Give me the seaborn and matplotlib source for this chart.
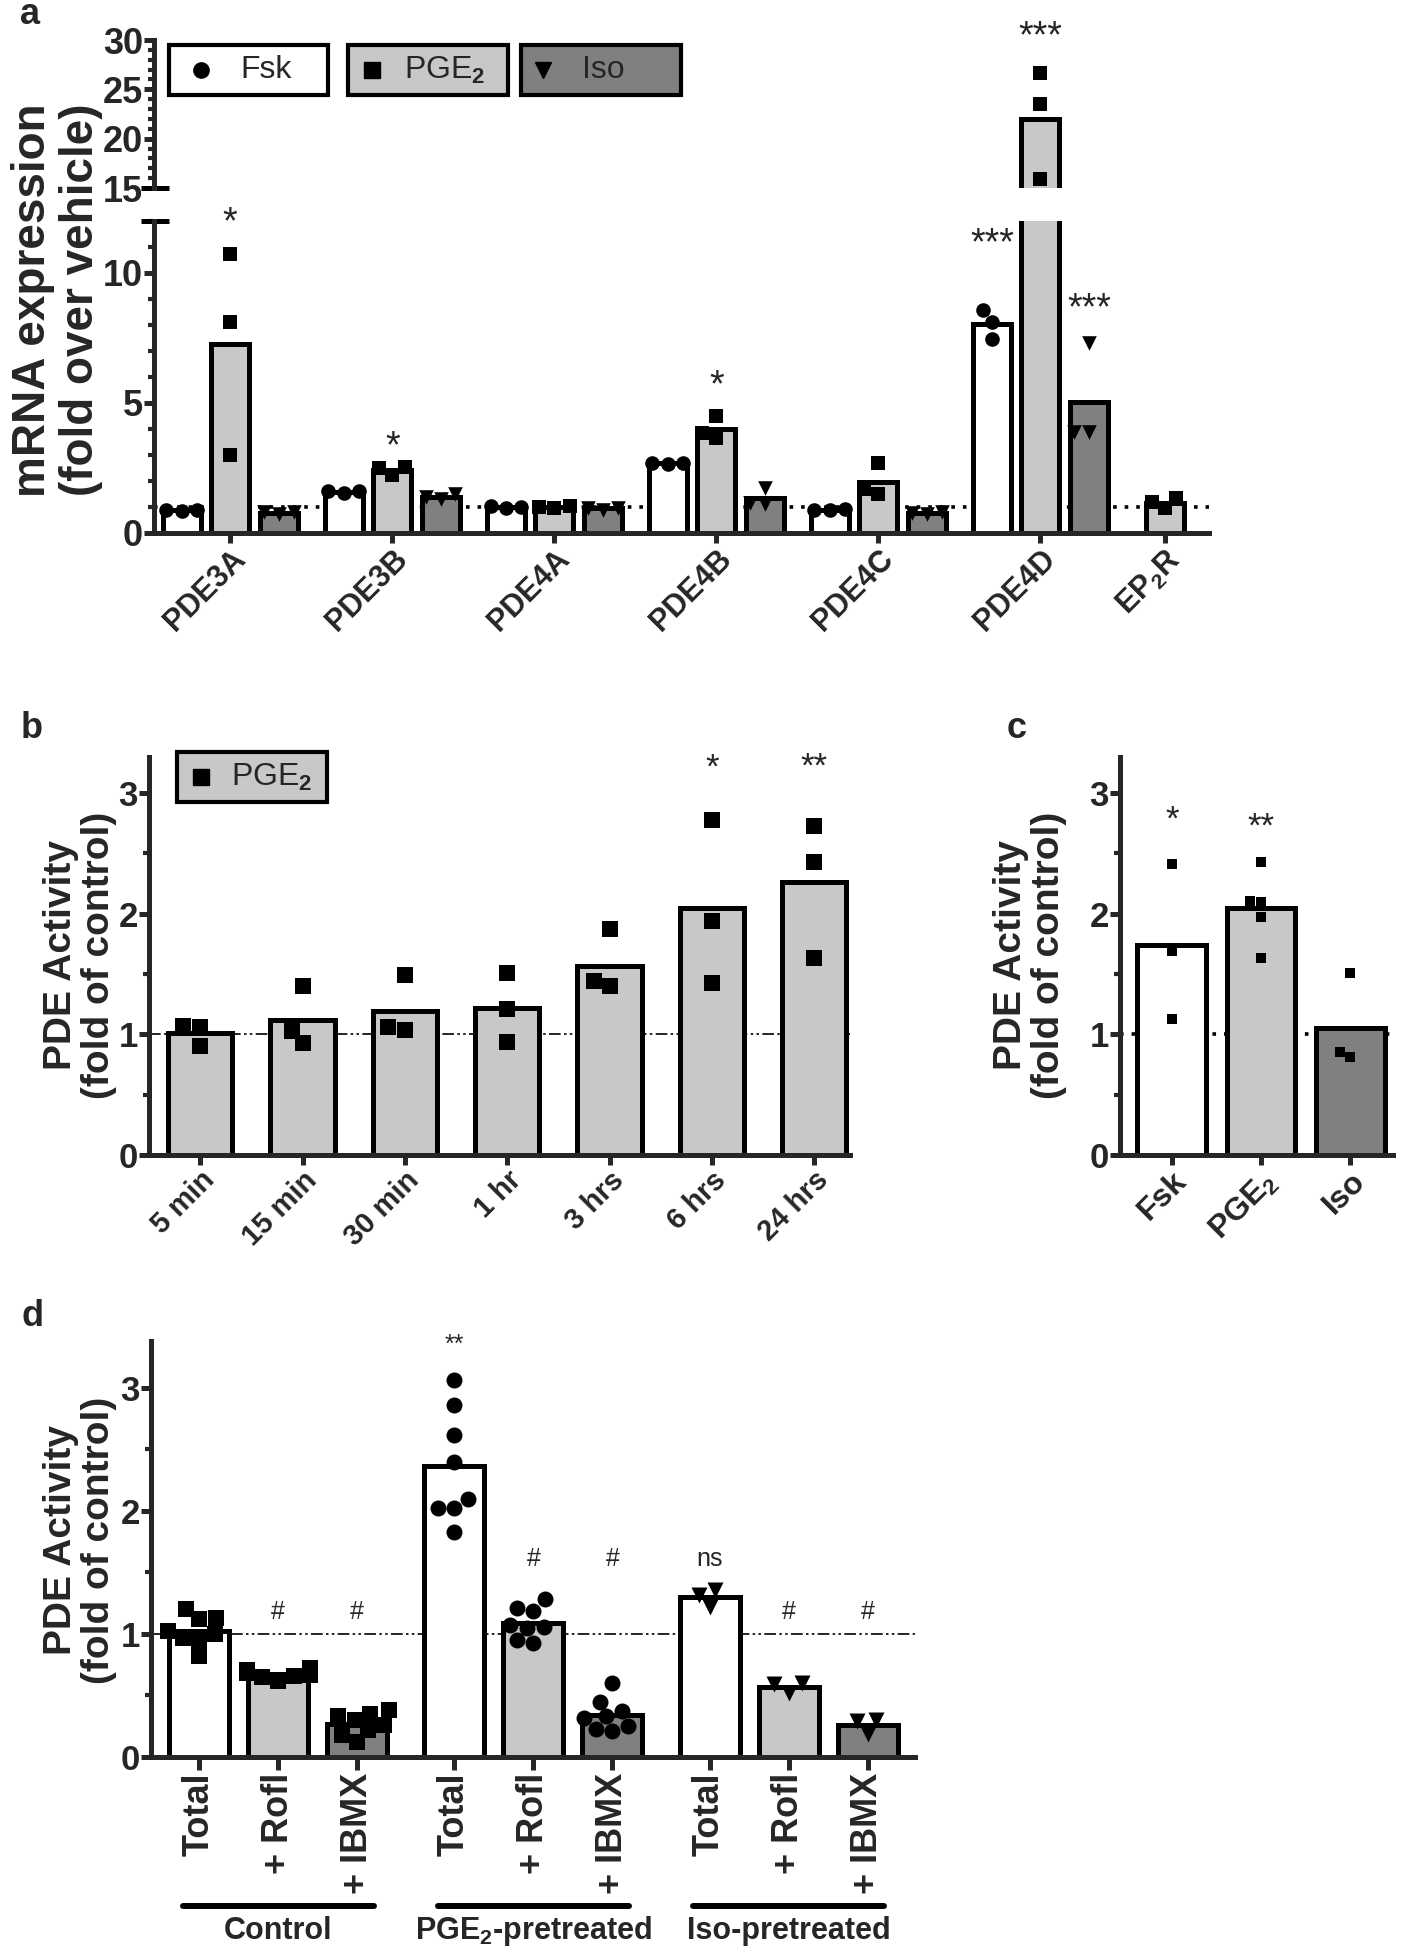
import numpy as np
import pandas as pd
import matplotlib
matplotlib.use("Agg")
import matplotlib.pyplot as plt
import matplotlib.transforms as mtransforms
from matplotlib.lines import Line2D
from matplotlib.patches import Rectangle
from matplotlib.ticker import MultipleLocator
import seaborn as sns

sns.set_style("ticks")
plt.rcParams["font.family"] = ["Liberation Sans", "DejaVu Sans"]
plt.rcParams["font.weight"] = "bold"
plt.rcParams["mathtext.fontset"] = "custom"
plt.rcParams["mathtext.rm"] = "Liberation Sans"
plt.rcParams["mathtext.bf"] = "Liberation Sans:bold"

WHITE, LIGHT, DARK = "#ffffff", "#c8c8c8", "#808080"

## ---- panel a data: mRNA fold over vehicle (3 replicates)
genes = ["PDE3A", "PDE3B", "PDE4A", "PDE4B", "PDE4C", "PDE4D", r"EP$_\mathbf{2}$R"]
fsk_mrna = [[0.85, 0.88, 0.9], [1.55, 1.6, 1.6], [0.95, 1.0, 1.03], [2.65, 2.7, 2.7],
            [0.88, 0.92, 0.9], [8.57, 8.1, 7.47]]
pge2_mrna = [[10.75, 8.1, 3.0], [2.55, 2.5, 2.25], [1.02, 1.0, 0.98], [4.5, 3.85, 3.65],
             [2.7, 1.7, 1.5], [26.7, 23.5, 15.9], [1.35, 1.2, 0.95]]
iso_mrna = [[0.8, 0.8, 0.75], [1.5, 1.4, 1.3], [0.95, 0.98, 0.9], [1.75, 1.15, 1.1],
            [0.8, 0.78, 0.72], [7.3, 3.9, 3.9]]
stars_a = [("PGE2", 0, 11.9, "*"), ("PGE2", 1, 3.3, "*"), ("PGE2", 3, 5.65, "*"),
           ("Fsk", 5, 11.1, "***"), ("Iso", 5, 8.6, "***")]

## ---- panel b data: PDE activity after PGE2, time course
times = ["5 min", "15 min", "30 min", "1 hr", "3 hrs", "6 hrs", "24 hrs"]
pge2_time = [[1.07, 0.90, 1.06], [0.93, 1.40, 1.03], [1.04, 1.49, 1.06], [1.51, 1.21, 0.94],
             [1.40, 1.87, 1.44], [2.78, 1.94, 1.43], [2.73, 2.43, 1.63]]
stars_b = [(5, 3.21, "*"), (6, 3.22, "**")]

## ---- panel c data
agonists = ["Fsk", r"PGE$_\mathbf{2}$", "Iso"]
c_fsk = [2.41, 1.69, 1.13]
c_pge2 = [2.43, 2.11, 2.10, 1.97, 1.63]
c_iso = [1.51, 0.85, 0.81]
stars_c = [(0, 2.78, "*"), (1, 2.72, "**")]

## ---- panel d data
kinds = ["Total", "+ Rofl", "+ IBMX"]
ctrl_total = [1.20, 1.13, 1.12, 1.02, 1.00, 0.97, 0.95, 0.82]
ctrl_rofl = [0.72, 0.71, 0.69, 0.68, 0.67, 0.66, 0.65, 0.62]
ctrl_ibmx = [0.38, 0.35, 0.33, 0.30, 0.26, 0.22, 0.18, 0.12]
pge_total = [3.06, 2.86, 2.62, 2.40, 2.10, 2.02, 2.02, 1.83]
pge_rofl = [1.28, 1.21, 1.19, 1.07, 1.06, 1.05, 0.95, 0.93]
pge_ibmx = [0.60, 0.45, 0.37, 0.33, 0.32, 0.25, 0.23, 0.21]
iso_total = [1.36, 1.32, 1.22]
iso_rofl = [0.60, 0.59, 0.52]
iso_ibmx = [0.30, 0.29, 0.19]
pretreat = ["Control", r"PGE$_\mathbf{2}$-pretreated", "Iso-pretreated"]
marks_d = ["s", "o", "v"]
notes_d = [(1, 1.18, "#"), (2, 1.18, "#"), (3, 3.35, "**"), (4, 1.61, "#"), (5, 1.61, "#"),
           (6, 1.61, "ns"), (7, 1.18, "#"), (8, 1.18, "#")]

## ---- layout helpers
W, H = 1402, 1950
fig = plt.figure(figsize=(W / 100, H / 100), dpi=100)


def axes_px(x0, y0, x1, y1):
    return fig.add_axes([x0 / W, 1 - y1 / H, (x1 - x0) / W, (y1 - y0) / H])


def style(ax):
    sns.despine(ax=ax)
    for s in ["left", "bottom"]:
        ax.spines[s].set_linewidth(3.6)
    ax.tick_params(which="major", width=3.6, length=7, pad=1)
    ax.tick_params(which="minor", width=3.0, length=4)
    ax.set_xlabel("")
    ax.set_ylabel("")


def yticks(ax, values, size=25):
    ax.set_yticks(values, labels=[str(v) for v in values], fontsize=size, fontweight="bold")


def xticks(ax, pos, labels, size, rot=45):
    if rot == 90:
        ax.set_xticks(pos, labels=labels, fontsize=size, fontweight="bold", rotation=90,
                      ha="center", va="top")
    else:
        ax.set_xticks(pos, labels=labels, fontsize=size, fontweight="bold", rotation=rot,
                      ha="right", rotation_mode="anchor")


def fig_text(x, y, s, **kw):
    fig.text(x / W, 1 - y / H, s, **kw)


def boxed_key(marker, label, face, box, mark_dx, text_dx, msize):
    # framed key box like the Prism legend (one box per series)
    x0, y0, x1, y1 = box
    fig.add_artist(Rectangle((x0 / W, 1 - y1 / H), (x1 - x0) / W, (y1 - y0) / H,
                             transform=fig.transFigure, facecolor=face, edgecolor="black",
                             lw=3, zorder=5))
    ym = (y0 + y1) / 2
    fig.add_artist(Line2D([(x0 + mark_dx) / W], [1 - ym / H], transform=fig.transFigure,
                          ls="none", marker=marker, color="black", markersize=msize, zorder=6))
    fig_text(x0 + text_dx, ym, label, ha="center", va="center", fontsize=23,
             fontweight="normal", zorder=6)


## ================= panel a (broken y axis)
gene_pos = [0, 1, 2, 3, 4, 5, 5.77]
offset = {"Fsk": -0.3, "PGE2": 0.0, "Iso": 0.3}
rows = []
for treat, values in [("Fsk", fsk_mrna), ("PGE2", pge2_mrna), ("Iso", iso_mrna)]:
    for g, pts in zip(gene_pos, values):
        for v in pts:
            rows.append({"x": g + offset[treat], "treat": treat, "value": v})
mrna = pd.DataFrame(rows)
pal_a = {"Fsk": WHITE, "PGE2": LIGHT, "Iso": DARK}
marks_a = {"Fsk": "o", "PGE2": "s", "Iso": "v"}

axt = axes_px(154, 40, 1209, 188)
axb = axes_px(154, 221, 1209, 533)
for ax in (axt, axb):
    sns.barplot(data=mrna, x="x", y="value", hue="treat", palette=pal_a, native_scale=True,
                dodge=False, errorbar=None, width=0.78, saturation=1, edgecolor="black",
                linewidth=3.6, legend=False, orient="x", ax=ax, zorder=2)
    for treat, m in marks_a.items():
        sns.swarmplot(data=mrna[mrna.treat == treat], x="x", y="value", native_scale=True,
                      orient="x", color="black", marker=m, size=10.5, linewidth=0,
                      warn_thresh=1, ax=ax, zorder=3)
    style(ax)
    ax.set_xlim(-0.47, 6.04)

axb.set_ylim(0, 12)
yticks(axb, [0, 5, 10], 26)
axb.yaxis.set_minor_locator(MultipleLocator(1))
xticks(axb, gene_pos, genes, 22)
axb.axhline(1, color="black", ls=(0, (1, 2.2)), lw=2.6, zorder=1)

axt.set_ylim(15, 30)
yticks(axt, [15, 20, 25, 30], 26)
axt.yaxis.set_minor_locator(MultipleLocator(1))
axt.spines["bottom"].set_visible(False)
axt.tick_params(axis="x", bottom=False, labelbottom=False)
for ax, yy in ((axb, 1), (axt, 0)):
    ax.plot([-0.012, 0.014], [yy, yy], transform=ax.transAxes, clip_on=False,
            color="black", lw=3.6, solid_capstyle="butt")

for treat, gi, yv, s in stars_a:
    axb.text(gene_pos[gi] + offset[treat], yv, s, ha="center", va="center", fontsize=27,
             fontweight="normal", clip_on=False)
axt.text(gene_pos[5], 30.3, "***", ha="center", va="center", fontsize=27,
         fontweight="normal", clip_on=False)

boxed_key("o", "Fsk", WHITE, (169, 45, 328, 95), 32, 97, 11)
boxed_key("s", "PGE$_2$", LIGHT, (348, 45, 508, 95), 24, 97, 11)
boxed_key("v", "Iso", DARK, (521, 45, 681, 95), 22, 82, 11)

fig_text(57, 300, "mRNA expression\n(fold over vehicle)", rotation=90, ha="center",
         va="center", fontsize=33, linespacing=1.1)
fig_text(30, 14, "a", ha="center", va="center", fontsize=26)

## ================= panel b
time_df = pd.DataFrame([{"x": i, "value": v} for i, pts in enumerate(pge2_time) for v in pts])
axb2 = axes_px(149, 757, 850, 1155)
sns.barplot(data=time_df, x="x", y="value", native_scale=True, orient="x", color=LIGHT,
            errorbar=None, width=0.63, saturation=1, edgecolor="black", linewidth=3.6,
            ax=axb2, zorder=2)
sns.swarmplot(data=time_df, x="x", y="value", native_scale=True, orient="x", color="black",
              marker="s", size=11.5, linewidth=0, warn_thresh=1, ax=axb2, zorder=3)
style(axb2)
axb2.axhline(1, color="black", ls=(0, (7, 2, 1.5, 2, 1.5, 2)), lw=1.2, zorder=1)
axb2.set_xlim(-0.5, 6.35)
axb2.set_ylim(0, 3.3)
yticks(axb2, [0, 1, 2, 3])
axb2.yaxis.set_minor_locator(MultipleLocator(0.5))
xticks(axb2, range(len(times)), times, 21)
for xi, yv, s in stars_b:
    axb2.text(xi, yv, s, ha="center", va="center", fontsize=25, fontweight="normal",
              clip_on=False)
boxed_key("s", "PGE$_2$", LIGHT, (177, 752, 327, 802), 24, 95, 12)
fig_text(80, 955, "PDE Activity\n(fold of control)", rotation=90, ha="center",
         va="center", fontsize=28, linespacing=1.1)
fig_text(32, 728, "b", ha="center", va="center", fontsize=26)

## ================= panel c
c_df = pd.DataFrame([{"x": i, "agonist": a, "value": v}
                     for i, (a, pts) in enumerate(zip(["Fsk", "PGE2", "Iso"], [c_fsk, c_pge2, c_iso]))
                     for v in pts])
axc = axes_px(1120, 757, 1393, 1155)
sns.barplot(data=c_df, x="x", y="value", hue="agonist", palette=pal_a, native_scale=True,
            orient="x", dodge=False, errorbar=None, width=0.77, saturation=1,
            edgecolor="black", linewidth=3.6, legend=False, ax=axc, zorder=2)
sns.swarmplot(data=c_df, x="x", y="value", native_scale=True, orient="x", color="black",
              marker="s", size=7.5, linewidth=0, warn_thresh=1, ax=axc, zorder=3)
style(axc)
axc.axhline(1, color="black", ls=(0, (1, 2.2)), lw=2.6, zorder=1)
axc.set_xlim(-0.58, 2.48)
axc.set_ylim(0, 3.3)
yticks(axc, [0, 1, 2, 3])
axc.yaxis.set_minor_locator(MultipleLocator(0.5))
xticks(axc, range(3), agonists, 23)
for xi, yv, s in stars_c:
    axc.text(xi, yv, s, ha="center", va="center", fontsize=25, fontweight="normal",
             clip_on=False)
fig_text(1030, 955, "PDE Activity\n(fold of control)", rotation=90, ha="center",
         va="center", fontsize=28, linespacing=1.1)
fig_text(1017, 728, "c", ha="center", va="center", fontsize=26)

## ================= panel d
d_pos = [0, 1, 2, 3.23, 4.23, 5.23, 6.46, 7.46, 8.46]
d_sets = [[ctrl_total, ctrl_rofl, ctrl_ibmx], [pge_total, pge_rofl, pge_ibmx],
          [iso_total, iso_rofl, iso_ibmx]]
rows = []
for gi, sets in enumerate(d_sets):
    for ki, pts in enumerate(sets):
        for v in pts:
            rows.append({"x": d_pos[gi * 3 + ki], "group": gi, "kind": kinds[ki], "value": v})
d_df = pd.DataFrame(rows)
pal_d = {"Total": WHITE, "+ Rofl": LIGHT, "+ IBMX": DARK}

axd = axes_px(151, 1341, 915, 1757)
sns.barplot(data=d_df, x="x", y="value", hue="kind", palette=pal_d, native_scale=True,
            orient="x", dodge=False, errorbar=None, width=0.76, saturation=1,
            edgecolor="black", linewidth=3.6, legend=False, ax=axd, zorder=2)
for gi, m in enumerate(marks_d):
    sns.swarmplot(data=d_df[d_df.group == gi], x="x", y="value", native_scale=True,
                  orient="x", color="black", marker=m, size=11.5, linewidth=0,
                  warn_thresh=1, ax=axd, zorder=3)
style(axd)
axd.axhline(1, color="black", ls=(0, (7, 2, 1.5, 2, 1.5, 2)), lw=1.2, zorder=1)
axd.set_xlim(-0.61, 9.06)
axd.set_ylim(0, 3.38)
yticks(axd, [0, 1, 2, 3])
axd.yaxis.set_minor_locator(MultipleLocator(0.5))
xticks(axd, d_pos, kinds * 3, 26, rot=90)
axd.tick_params(axis="x", length=9, pad=2)
for i, yv, s in notes_d:
    axd.text(d_pos[i], yv, s, ha="center", va="center", fontsize=18, fontweight="normal",
             clip_on=False)
blend = mtransforms.blended_transform_factory(axd.transData, fig.transFigure)
for gi, name in enumerate(pretreat):
    x0, x1 = d_pos[gi * 3] - 0.21, d_pos[gi * 3 + 2] + 0.21
    fig.add_artist(Line2D([x0, x1], [1 - 1906 / H] * 2, transform=blend, color="black",
                          lw=4.3, solid_capstyle="round"))
    fig.text((x0 + x1) / 2, 1 - 1931 / H, name, transform=blend, ha="center", va="center",
             fontsize=22)
fig_text(80, 1540, "PDE Activity\n(fold of control)", rotation=90, ha="center",
         va="center", fontsize=28, linespacing=1.1)
fig_text(33, 1316, "d", ha="center", va="center", fontsize=26)

fig.savefig("out.png", dpi=100, facecolor="white")
